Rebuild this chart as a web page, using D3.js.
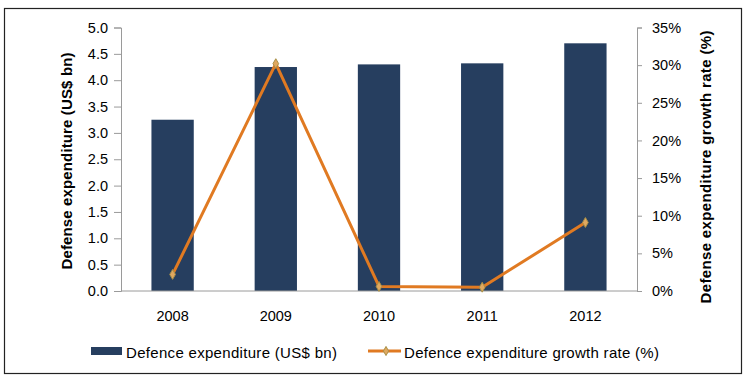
<!DOCTYPE html>
<html><head><meta charset="utf-8">
<script src="https://cdn.jsdelivr.net/npm/d3@7"></script>
<style>body{margin:0;background:#fff}svg{display:block;font-family:"Liberation Sans",Arial,sans-serif}</style>
</head><body><svg id="c" width="747" height="379"></svg>
<script>
const categories = ["2008","2009","2010","2011","2012"];
const expenditure = [3.25, 4.25, 4.3, 4.32, 4.7];
const growthRate = [2.2, 30.2, 0.6, 0.5, 9.1];
const leftTicks = [0,0.5,1,1.5,2,2.5,3,3.5,4,4.5,5];
const rightTicks = [0,5,10,15,20,25,30,35];

const svg = d3.select("#c");
svg.append("rect").attr("x",4.5).attr("y",8.5).attr("width",737).attr("height",365)
  .attr("fill","#fff").attr("stroke","#222").attr("stroke-width",1.2);

const L=121, R=637, T=27.5, B=291;
const x = d3.scaleBand().domain(categories).range([L,R]).paddingInner(0.59).paddingOuter(0.295);
const yL = d3.scaleLinear().domain([0,5]).range([B,T]);
const yR = d3.scaleLinear().domain([0,35]).range([B,T]);

// bars
svg.append("g").selectAll("rect").data(categories).join("rect")
  .attr("x",d=>x(d)).attr("width",x.bandwidth())
  .attr("y",(d,i)=>yL(expenditure[i])).attr("height",(d,i)=>B-yL(expenditure[i]))
  .attr("fill","#263e5f");

// axes
const axL = svg.append("g").attr("transform",`translate(${L},0)`)
  .call(d3.axisLeft(yL).tickValues(leftTicks).tickFormat(d3.format(".1f")).tickSize(7).tickPadding(6));
const axR = svg.append("g").attr("transform",`translate(${R},0)`)
  .call(d3.axisRight(yR).tickValues(rightTicks).tickFormat(d=>d+"%").tickSize(5).tickPadding(10));
const axB = svg.append("g").attr("transform",`translate(0,${B})`)
  .call(d3.axisBottom(x).tickSize(0).tickPadding(20));
[axL,axR,axB].forEach(a=>{
  a.selectAll("path,line").attr("stroke","#9a9a9a");
  a.selectAll("text").attr("fill","#000").style("font-size","14.5px").style("font-family","'Liberation Sans',Arial,sans-serif");
});
axB.select("path").attr("d",`M${L},0H${R}`);

// line
const pts = categories.map((c,i)=>[x(c)+x.bandwidth()/2, yR(growthRate[i])]);
svg.append("path").attr("d",d3.line()(pts)).attr("fill","none")
  .attr("stroke","#e07a22").attr("stroke-width",3).attr("stroke-linejoin","round");
svg.append("g").selectAll("path").data(pts).join("path")
  .attr("d",d3.symbol(d3.symbolDiamond,28)())
  .attr("transform",d=>`translate(${d[0]},${d[1]})`)
  .attr("fill","#e0a860").attr("stroke","#a89048").attr("stroke-width",1);

// axis titles
svg.append("text").attr("transform",`translate(72,161) rotate(-90)`)
  .attr("text-anchor","middle").style("font-size","15px").style("font-weight","bold")
  .attr("textLength",217).attr("lengthAdjust","spacing").text("Defense expenditure (US$ bn)");
svg.append("text").attr("transform",`translate(711,167) rotate(-90)`)
  .attr("text-anchor","middle").style("font-size","15px").style("font-weight","bold")
  .attr("textLength",273).attr("lengthAdjust","spacing").text("Defense expenditure growth rate (%)");

// legend
const ly = 351;
svg.append("rect").attr("x",91).attr("y",ly-4).attr("width",31).attr("height",8).attr("fill","#263e5f");
svg.append("text").attr("x",126).attr("y",ly+7).style("font-size","15px")
  .attr("textLength",211).attr("lengthAdjust","spacing").text("Defence expenditure (US$ bn)");
svg.append("line").attr("x1",368).attr("x2",401).attr("y1",ly).attr("y2",ly).attr("stroke","#e07a22").attr("stroke-width",3);
svg.append("path").attr("d",d3.symbol(d3.symbolDiamond,24)()).attr("transform",`translate(386,${ly})`)
  .attr("fill","#e0a860").attr("stroke","#a89048");
svg.append("text").attr("x",404).attr("y",ly+7).style("font-size","15px")
  .attr("textLength",255).attr("lengthAdjust","spacing").text("Defence expenditure growth rate (%)");
</script></body></html>
